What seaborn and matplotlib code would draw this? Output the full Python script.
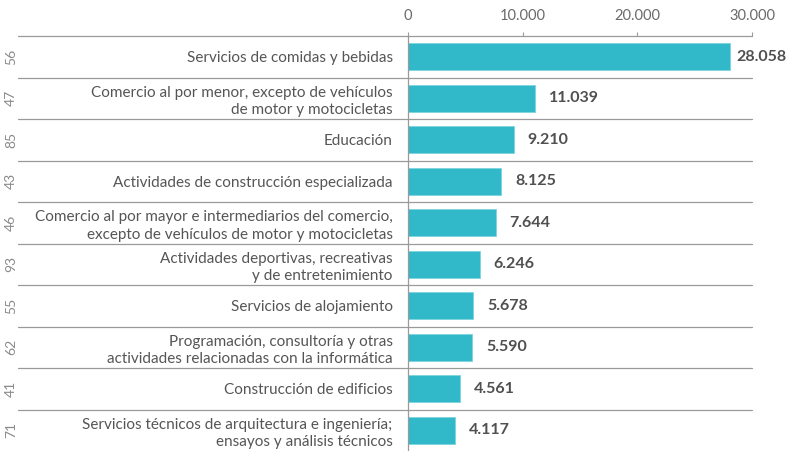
import matplotlib.pyplot as plt
import seaborn as sns
import pandas as pd

# Datos
codigos = ['56', '47', '85', '43', '46', '93', '55', '62', '41', '71']
actividades = [
    'Servicios de comidas y bebidas',
    'Comercio al por menor, excepto de vehículos\nde motor y motocicletas',
    'Educación',
    'Actividades de construcción especializada',
    'Comercio al por mayor e intermediarios del comercio,\nexcepto de vehículos de motor y motocicletas',
    'Actividades deportivas, recreativas\ny de entretenimiento',
    'Servicios de alojamiento',
    'Programación, consultoría y otras\nactividades relacionadas con la informática',
    'Construcción de edificios',
    'Servicios técnicos de arquitectura e ingeniería;\nensayos y análisis técnicos',
]
valores = [28058, 11039, 9210, 8125, 7644, 6246, 5678, 5590, 4561, 4117]
ticks = [0, 10000, 20000, 30000]

df = pd.DataFrame({'actividad': actividades, 'valor': valores, 'codigo': codigos})

sns.set_style('white')
plt.rcParams['font.family'] = ['Lato', 'DejaVu Sans']

gris_linea = '#9a9a9a'

fig = plt.figure(figsize=(7.87, 4.51), dpi=100)
ax = fig.add_axes([408 / 787, 0.0, 344 / 787, 1 - 36 / 451])

sns.barplot(data=df, x='valor', y='actividad', orient='h', color='#31b8c9',
            saturation=1, width=0.65, edgecolor='#7fd3de', linewidth=0.6, ax=ax)

ax.set_xlim(0, 30000)
ax.set_ylim(len(df) - 0.5, -0.5)
ax.xaxis.tick_top()
ax.set_xticks(ticks)
ax.set_xticklabels([f'{t:,}'.replace(',', '.') for t in ticks])
ax.tick_params(axis='x', direction='out', length=3, width=0.8, color=gris_linea,
               labelsize=10.5, labelcolor='#6a6a6a', pad=6, top=True, bottom=False)
ax.tick_params(axis='y', length=0, pad=11, labelsize=11, labelcolor='#555555')
for lbl in ax.get_yticklabels():
    lbl.set_horizontalalignment('right')
    lbl.set_multialignment('right')
    lbl.set_linespacing(1.3)
ax.set_xlabel('')
ax.set_ylabel('')

for s in ['right', 'bottom', 'top']:
    ax.spines[s].set_visible(False)
ax.spines['left'].set_color(gris_linea)
ax.spines['left'].set_linewidth(0.9)

# Líneas separadoras entre filas (se extienden hacia la izquierda)
xmin = (18 - 408) / 344
for i in range(len(df)):
    ax.axhline(i - 0.5, xmin=xmin, xmax=1, color=gris_linea, lw=0.9, clip_on=False)

# Códigos rotados a la izquierda
trans = ax.get_yaxis_transform()
for i, c in enumerate(codigos):
    ax.text((11 - 408) / 344, i, c, rotation=90, ha='center', va='center',
            fontsize=10, color='#8a8a8a', transform=trans, clip_on=False)

# Etiquetas de valor
for i, v in enumerate(valores):
    off = 5 if v > 25000 else 10
    ax.annotate(f'{v:,}'.replace(',', '.'), xy=(v, i), xytext=(off, 0),
                textcoords='offset points', ha='left', va='center',
                fontsize=11.5, fontweight='bold', color='#505050', annotation_clip=False)

fig.savefig('out.png', dpi=100)
